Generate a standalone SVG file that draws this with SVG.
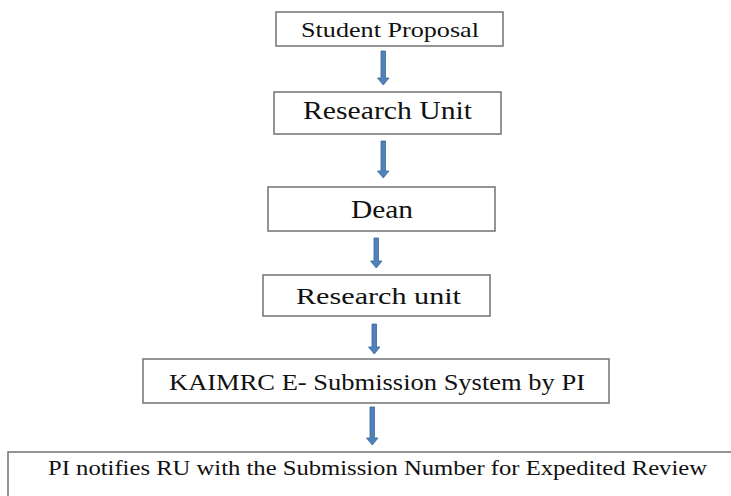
<svg xmlns="http://www.w3.org/2000/svg" width="731" height="496" viewBox="0 0 731 496">
<defs>
<style>
.box{fill:#fff;stroke:#7a7a7a;stroke-width:1.6}
.t{font-family:'Liberation Serif',serif;fill:#111;text-anchor:middle}
.arr{fill:#4f81bd;stroke:#3b6896;stroke-width:0.8}
</style>
</defs>
<rect width="731" height="496" fill="#fff"/>
<g id="connectors">
<path class="arr" d="M381,51 h4.5 v27 h3.5 l-5.75,7 l-5.75,-7 h3.5 z"/>
<path class="arr" d="M381,141 h4.5 v30 h3.5 l-5.75,7 l-5.75,-7 h3.5 z"/>
<path class="arr" d="M374,238 h4.5 v23 h3.5 l-5.75,7 l-5.75,-7 h3.5 z"/>
<path class="arr" d="M372,324 h4.5 v23 h3.5 l-5.75,7 l-5.75,-7 h3.5 z"/>
<path class="arr" d="M370,407 h4.5 v31 h3.5 l-5.75,7 l-5.75,-7 h3.5 z"/>
</g>
<g id="n1"><rect class="box" x="276" y="12" width="227" height="34"/><text class="t" x="390" y="37" font-size="21" textLength="178" lengthAdjust="spacingAndGlyphs">Student Proposal</text></g>
<g id="n2"><rect class="box" x="274" y="92" width="227" height="42"/><text class="t" x="387.5" y="119" font-size="25" textLength="169" lengthAdjust="spacingAndGlyphs">Research Unit</text></g>
<g id="n3"><rect class="box" x="268" y="187" width="227" height="44"/><text class="t" x="382" y="218" font-size="25" textLength="62" lengthAdjust="spacingAndGlyphs">Dean</text></g>
<g id="n4"><rect class="box" x="263" y="275" width="227" height="41"/><text class="t" x="378.5" y="304" font-size="24" textLength="165" lengthAdjust="spacingAndGlyphs">Research unit</text></g>
<g id="n5"><rect class="box" x="143" y="359" width="466" height="44"/><text class="t" x="377" y="390" font-size="22.5" textLength="416" lengthAdjust="spacingAndGlyphs">KAIMRC E- Submission System by PI</text></g>
<g id="n6"><rect class="box" x="8" y="452" width="730" height="60"/><text class="t" x="377.5" y="475" font-size="20.5" textLength="659" lengthAdjust="spacingAndGlyphs">PI notifies RU with the Submission Number for Expedited Review</text></g>
</svg>
